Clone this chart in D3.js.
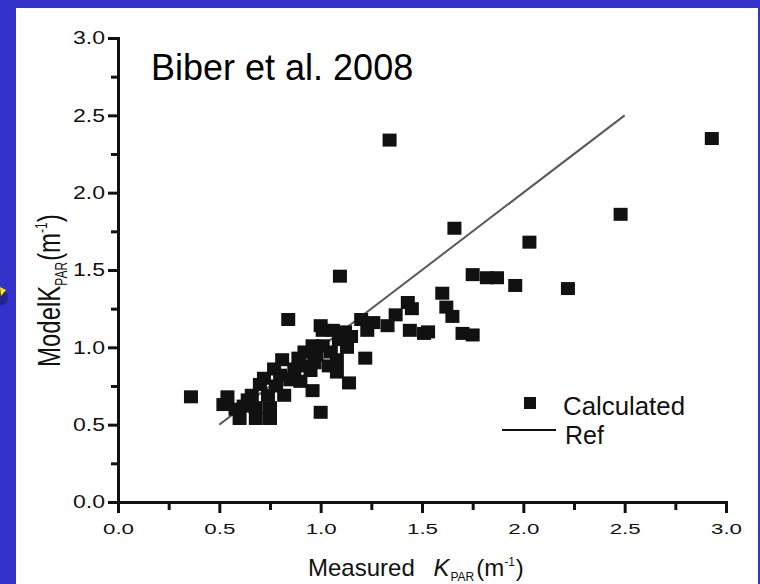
<!DOCTYPE html>
<html><head><meta charset="utf-8">
<script src="https://cdn.jsdelivr.net/npm/d3@7"></script>
<style>html,body{margin:0;padding:0;background:#3333cc;}svg{display:block;}</style>
</head><body>
<svg id="chart" width="760" height="584"></svg>
<script>
// ---- data ----
const measured = [0.36,1.34,2.93,2.48,2.03,1.66,1.095,2.22,1.96,1.75,1.82,1.87,1.60,1.62,1.65,1.43,1.45,1.37,1.33,1.44,1.51,1.53,1.70,1.75,1.22,1.14,1.00,0.84,
  1.20,1.26,1.23,1.01,1.06,1.12,1.09,1.01,1.13,0.96,1.05,0.97,1.04,1.08,0.95,0.81,0.89,0.77,0.85,0.90,0.96,0.70,0.78,0.66,0.74,0.82,0.54,0.52,0.62,0.68,0.75,0.60,0.68,0.75,0.92,1.00,
  0.72,0.80,0.87,0.93,0.98,1.08,0.64,0.58,1.15];
const modeled  = [0.68,2.34,2.35,1.86,1.68,1.77,1.46,1.38,1.40,1.47,1.45,1.45,1.35,1.26,1.20,1.29,1.25,1.21,1.14,1.11,1.09,1.10,1.09,1.08,0.93,0.77,0.58,1.18,
  1.18,1.16,1.11,1.11,1.11,1.10,1.05,1.01,1.00,1.01,0.97,0.90,0.88,0.84,0.85,0.92,0.93,0.86,0.79,0.78,0.72,0.76,0.75,0.69,0.69,0.69,0.68,0.63,0.62,0.61,0.61,0.54,0.54,0.54,0.97,1.14,
  0.80,0.82,0.86,0.88,0.95,0.92,0.66,0.60,1.07];
const refX = [0.5, 2.5];
const refY = [0.5, 2.5];
const majorTicks = [0, 0.5, 1.0, 1.5, 2.0, 2.5, 3.0];
const tickLabels = ["0.0","0.5","1.0","1.5","2.0","2.5","3.0"];
const minorTicks = [0.25, 0.75, 1.25, 1.75, 2.25, 2.75];
const titleText = "Biber et al. 2008";
const legendLabels = ["Calculated", "Ref"];

const svg = d3.select("#chart");
svg.append("rect").attr("x",0).attr("y",0).attr("width",760).attr("height",584).attr("fill","#3333cc");
svg.append("rect").attr("x",16).attr("y",8).attr("width",742).attr("height",576).attr("fill","#ffffff");
svg.append("ellipse").attr("cx",2).attr("cy",298).attr("rx",6).attr("ry",7).attr("fill","#1a1a66").attr("opacity",0.6);
svg.append("path").attr("d","M0,287 L6,290 L1,296 Z").attr("fill","#ffee00");

const x = d3.scaleLinear().domain([0,3]).range([118,726]);
const y = d3.scaleLinear().domain([0,3]).range([502,38]);
const ink = "#111";

svg.append("g").attr("transform","translate(0,502)")
  .call(d3.axisBottom(x).tickValues(minorTicks).tickSize(8).tickSizeOuter(0).tickFormat(""))
  .call(g=>g.select(".domain").remove());
svg.append("g").attr("transform","translate(118,0)")
  .call(d3.axisLeft(y).tickValues(minorTicks).tickSize(7).tickSizeOuter(0).tickFormat(""))
  .call(g=>g.select(".domain").remove());

const xa = svg.append("g").attr("transform","translate(0,502)")
  .call(d3.axisBottom(x).tickValues(majorTicks).tickFormat((d,i)=>tickLabels[i]).tickSize(11).tickSizeOuter(0).tickPadding(10));
xa.selectAll("text").attr("font-family","'Liberation Sans', Arial, sans-serif").attr("font-size",15)
  .attr("fill",ink).attr("textLength",31).attr("lengthAdjust","spacingAndGlyphs");
const ya = svg.append("g").attr("transform","translate(118,0)")
  .call(d3.axisLeft(y).tickValues(majorTicks).tickFormat((d,i)=>tickLabels[i]).tickSize(10).tickSizeOuter(0).tickPadding(3));
ya.selectAll("text").attr("font-family","'Liberation Sans', Arial, sans-serif").attr("font-size",18)
  .attr("fill",ink).attr("textLength",32).attr("lengthAdjust","spacingAndGlyphs");
svg.selectAll(".domain").attr("stroke",ink).attr("stroke-width",3).attr("stroke-linecap","square");
svg.selectAll(".tick line").attr("stroke",ink).attr("stroke-width",3);

const refPts = refX.map((v,i)=>[v, refY[i]]);
svg.append("path").datum(refPts)
  .attr("d", d3.line().x(d=>x(d[0])).y(d=>y(d[1])))
  .attr("stroke","#5a5a5a").attr("stroke-width",2).attr("fill","none");

const pts = measured.map((v,i)=>[v, modeled[i]]);
svg.append("g").selectAll("rect").data(pts).join("rect")
  .attr("x",d=>x(d[0])-7).attr("y",d=>y(d[1])-6.5)
  .attr("width",14).attr("height",13).attr("fill",ink);

svg.append("text").attr("x",151).attr("y",80).text(titleText)
  .attr("font-family","'Liberation Sans', Arial, sans-serif").attr("font-size",36).attr("fill","#000");

svg.append("rect").attr("x",524).attr("y",397).attr("width",12).attr("height",12).attr("fill",ink);
svg.append("text").attr("x",563).attr("y",415).text(legendLabels[0])
  .attr("font-family","'Liberation Sans', Arial, sans-serif").attr("font-size",25).attr("fill",ink)
  .attr("textLength",122).attr("lengthAdjust","spacingAndGlyphs");
svg.append("line").attr("x1",502).attr("x2",556).attr("y1",430).attr("y2",430).attr("stroke",ink).attr("stroke-width",2);
svg.append("text").attr("x",565).attr("y",444).text(legendLabels[1])
  .attr("font-family","'Liberation Sans', Arial, sans-serif").attr("font-size",25).attr("fill",ink);

const xl = svg.append("text").attr("x",308).attr("y",576)
  .attr("font-family","'Liberation Sans', Arial, sans-serif").attr("font-size",24).attr("fill",ink);
xl.append("tspan").text("Measured ");
xl.append("tspan").attr("font-style","italic").attr("dx",12).text("K");
xl.append("tspan").attr("font-size",12).attr("dy",5).attr("dx",1).text("PAR");
xl.append("tspan").attr("dy",-5).attr("dx",2).text("(m");
xl.append("tspan").attr("font-size",12).attr("dy",-10).text("-1");
xl.append("tspan").attr("dy",10).attr("dx",1).text(")");

const yl = svg.append("text").attr("transform","translate(60,367) rotate(-90) scale(1,1.3)")
  .attr("font-family","'Liberation Sans', Arial, sans-serif").attr("font-size",24).attr("fill",ink);
yl.append("tspan").text("Model");
yl.append("tspan").text("K");
yl.append("tspan").attr("font-size",12).attr("dy",5).text("PAR");
yl.append("tspan").attr("dy",-5).attr("dx",1).text("(m");
yl.append("tspan").attr("font-size",12).attr("dy",-10).text("-1");
yl.append("tspan").attr("dy",10).text(")");
</script>
</body></html>
